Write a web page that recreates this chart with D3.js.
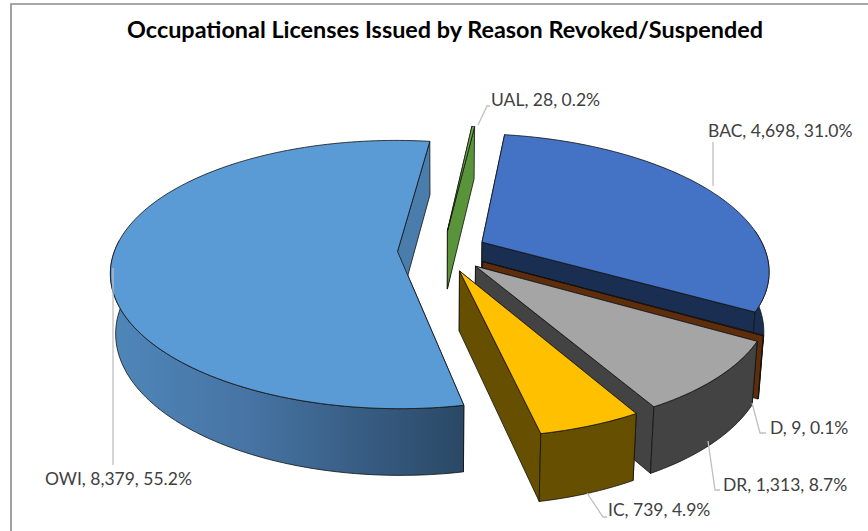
<!DOCTYPE html>
<html><head><meta charset="utf-8">
<script src="https://cdn.jsdelivr.net/npm/d3@7"></script>
<style>html,body{margin:0;padding:0;background:#fff}svg{display:block}text{font-family:Lato,"Open Sans",sans-serif}</style>
</head><body><svg id="c" width="868" height="531"></svg>
<script>
const titleText = "Occupational Licenses Issued by Reason Revoked/Suspended";
const categories = ["BAC","D","DR","IC","OWI","UAL"];
const counts = [4698,9,1313,739,8379,28];
const percents = ["31.0%","0.1%","8.7%","4.9%","55.2%","0.2%"];

const topColors = {BAC:"#4472C4",D:"#843C0C",DR:"#A5A5A5",IC:"#FFC000",OWI:"#5B9BD5",UAL:"#70AD47"};
const wallColors = {BAC:"#1A2E52",D:"#5E2D0C",DR:"#434343",IC:"#665000",OWI:"#4A7DAC",UAL:"#5A943A"};

const W=868,H=531;
const cam={cx:442.5,cy:251,rx:283,ry:130,k:0.1716,vx:387,expl:0.159,depth:59,rot:8.7*Math.PI/180,botScale:0.984,botCx:440};
const svg=d3.select("#c");
const defs=svg.append("defs");
const g=defs.append("linearGradient").attr("id","owiWall").attr("gradientUnits","userSpaceOnUse")
  .attr("x1",110).attr("x2",465).attr("y1",0).attr("y2",0);
g.append("stop").attr("offset","0").attr("stop-color","#4F87BA");
g.append("stop").attr("offset","0.4").attr("stop-color","#4673A3");
g.append("stop").attr("offset","1").attr("stop-color","#2A4865");

svg.append("path").attr("d","M11,"+H+"V4H"+W).attr("fill","none").attr("stroke","#8c8c8c").attr("stroke-width",1.6);

svg.append("text").attr("x",445).attr("y",38).attr("text-anchor","middle").attr("font-weight",700).attr("font-size",23.4).attr("fill","#000").text(titleText);

const rows=categories.map((c,i)=>({c,v:counts[i],p:percents[i]}));
const arcs=d3.pie().sort(null).value(d=>d.v).startAngle(cam.rot).endAngle(cam.rot+2*Math.PI)(rows);

function proj(u,v,z){
  const p=1/(1-cam.k*v);
  const X=cam.cx+cam.rx*u, Y=cam.ry*v;
  const sx=cam.vx+(X-cam.vx)*p, sy=cam.cy+Y*p;
  if(!z) return [sx,sy];
  return [cam.botCx+(sx-cam.botCx)*cam.botScale, sy+cam.depth*Math.pow(p,0.65)];
}
function rim(a,off,th,z){return proj(off[0]+Math.sin(th),off[1]-Math.cos(th),z);}
const line=d3.line();
const order=["UAL","OWI","BAC","D","DR","IC"];
const byName=new Map(arcs.map(a=>[a.data.c,a]));
const G=svg.append("g").attr("stroke","#111").attr("stroke-width",0.8).attr("stroke-linejoin","round");

order.forEach(name=>{
  const a=byName.get(name);
  const mid=(a.startAngle+a.endAngle)/2;
  const off=[cam.expl*Math.sin(mid),-cam.expl*Math.cos(mid)];
  const thetas=d3.range(0,1.0001,1/Math.max(2,Math.ceil((a.endAngle-a.startAngle)*40))).map(t=>a.startAngle+t*(a.endAngle-a.startAngle));
  const apexT=proj(off[0],off[1],false),apexB=proj(off[0],off[1],true);
  const topRim=thetas.map(t=>rim(a,off,t,false));
  const botRim=thetas.map(t=>rim(a,off,t,true));
  const wallC=wallColors[name];
  [0,topRim.length-1].forEach(i=>{
    G.append("path").attr("d",line([apexT,topRim[i],botRim[i],apexB])+"Z").attr("fill",wallC);
  });
  const fill=name==="OWI"?"url(#owiWall)":wallC;
  const vis=thetas.map((t,i)=>i).filter(i=>Math.cos(thetas[i])<0.1);
  if(vis.length>1){
    G.append("path").attr("d",line(vis.map(i=>topRim[i]).concat(vis.map(i=>botRim[i]).reverse()))+"Z").attr("fill",fill);
  }
  G.append("path").attr("d",line([apexT].concat(topRim))+"Z").attr("fill",topColors[name]);
});

const fmt=d3.format(",");
const labelPlace={
 BAC:{x:708,y:137,lead:[[713,186],[713,142]]},
 D:{x:770,y:434,lead:[[752,403],[760,433],[766,433]]},
 DR:{x:723,y:491,lead:[[708,441],[715,490],[720,490]]},
 IC:{x:608,y:516,lead:[[587,493],[603,517],[607,517]]},
 OWI:{x:45,y:485,lead:[[113,268],[113,465]]},
 UAL:{x:491,y:106,lead:[[478,125],[487,106],[490,106]]}
};
const L=svg.append("g");
rows.forEach(r=>{
  const pl=labelPlace[r.c];
  L.append("path").attr("d",line(pl.lead)).attr("fill","none").attr("stroke","#bfbfbf").attr("stroke-width",1.3);
  L.append("text").attr("x",pl.x).attr("y",pl.y).attr("font-size",17.5).attr("fill","#404040")
   .text(`${r.c}, ${fmt(r.v)}, ${r.p}`);
});
</script></body></html>
